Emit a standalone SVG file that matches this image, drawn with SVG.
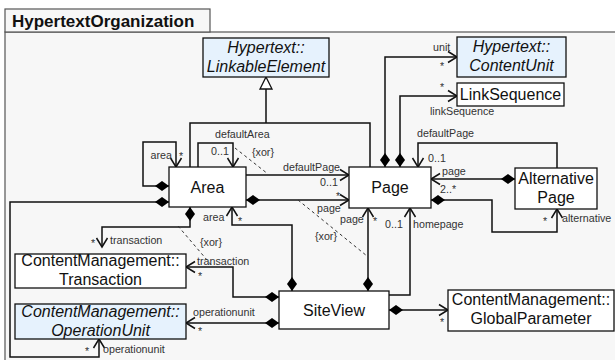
<svg xmlns="http://www.w3.org/2000/svg" width="615" height="360" viewBox="0 0 615 360">
<style>
.frame{fill:#f7f7f7;stroke:#555;stroke-width:1.2}
.node{fill:#fff;stroke:#111;stroke-width:1.3}
.abs{fill:#e6f2fd;stroke:#111;stroke-width:1.3}
.t{font-family:"Liberation Sans",Arial,sans-serif;font-size:16px;fill:#111;text-anchor:middle}
.i{font-style:italic}
.title{font-family:"Liberation Sans",Arial,sans-serif;font-size:17px;font-weight:bold;fill:#111}
.c{fill:none;stroke:#111;stroke-width:1.5}
.a{marker-end:url(#arr)}
.d{marker-start:url(#dia)}
.x{fill:none;stroke:#333;stroke-width:1;stroke-dasharray:3,3}
.l{font-family:"Liberation Sans",Arial,sans-serif;font-size:10.7px;fill:#333}
</style>
<defs>
<marker id="arr" markerUnits="userSpaceOnUse" viewBox="-11 -7 13 14" markerWidth="13" markerHeight="14" refX="0" refY="0" orient="auto">
<path d="M-9,-5.5 L0,0 L-9,5.5" fill="none" stroke="#111" stroke-width="1.5"/>
</marker>
<marker id="dia" markerUnits="userSpaceOnUse" viewBox="-1 -6 17 12" markerWidth="17" markerHeight="12" refX="0" refY="0" orient="auto">
<path d="M0,0 L7,-5 L14,0 L7,5 z" fill="#000"/>
</marker>
</defs>
<rect x="0" y="0" width="615" height="360" fill="#fff"/>
<rect class="frame" x="5" y="32" width="620" height="335"/>
<rect class="frame" x="5" y="9" width="205" height="23"/>
<text class="title" x="12" y="27">HypertextOrganization</text>

<g id="connectors">
<!-- generalization -->
<path class="c" d="M190,167 V123 H370 V167 M266,123 V89"/>
<polygon points="266,77 272,89 260,89" fill="#fff" stroke="#111" stroke-width="1.3"/>
<!-- Area self area -->
<path class="c d a" d="M169,186 H143 V142 H176 V167"/>
<!-- defaultArea -->
<path class="c a" d="M198,167 V143 H233 V167"/>
<!-- Area to Page defaultPage -->
<path class="c a" d="M246,175 H349"/>
<!-- Area to Page page -->
<path class="c d a" d="M246,200 H349"/>
<!-- Page to ContentUnit -->
<path class="c d a" d="M385,167 V57 H457"/>
<!-- Page to LinkSequence -->
<path class="c d a" d="M400,167 V96 H457"/>
<!-- AltPage defaultPage -->
<path class="c a" d="M557,168 V143 H418 V167"/>
<!-- AltPage to Page page -->
<path class="c d a" d="M515,179 H431"/>
<!-- Page to AltPage alternative -->
<path class="c d a" d="M431,200 H492 V232 H557 V209"/>
<!-- SiteView to Area -->
<path class="c d a" d="M292,291 V225 H232 V207"/>
<!-- Area to Transaction -->
<path class="c d a" d="M190,207 V227 H102 V247"/>
<!-- SiteView to Transaction -->
<path class="c d a" d="M279,297 H233 V267 H186"/>
<!-- SiteView to OperationUnit -->
<path class="c d a" d="M279,323 H186"/>
<!-- Area to OperationUnit -->
<path class="c d a" d="M169,202 H10 V357 H99 V339"/>
<!-- SiteView to Page page -->
<path class="c d a" d="M368,291 V208"/>
<!-- SiteView homepage -->
<path class="c a" d="M389,295 H410 V208"/>
<!-- SiteView to GlobalParameter -->
<path class="c d a" d="M389,310 H448"/>
<!-- xor constraints -->
<path class="x" d="M235,148 L268,174"/>
<path class="x" d="M298,200 L367,256"/>
<path class="x" d="M178,226 L213,267"/>
<!-- labels -->
<text class="l" x="172" y="159" text-anchor="end">area</text>
<text class="l" x="179" y="160">*</text>
<text class="l" x="215" y="138">defaultArea</text>
<text class="l" x="211" y="155">0..1</text>
<text class="l" x="252" y="156">{xor}</text>
<text class="l" x="283" y="171">defaultPage</text>
<text class="l" x="320" y="186">0..1</text>
<text class="l" x="336" y="200">*</text>
<text class="l" x="317" y="212">page</text>
<text class="l" x="315" y="240">{xor}</text>
<text class="l" x="433" y="51">unit</text>
<text class="l" x="440" y="70">*</text>
<text class="l" x="440" y="91">*</text>
<text class="l" x="430" y="115">linkSequence</text>
<text class="l" x="417" y="137">defaultPage</text>
<text class="l" x="428" y="162">0..1</text>
<text class="l" x="442" y="175">page</text>
<text class="l" x="440" y="193">2..*</text>
<text class="l" x="543" y="225">*</text>
<text class="l" x="562" y="222">alternative</text>
<text class="l" x="203" y="221">area</text>
<text class="l" x="238" y="225">*</text>
<text class="l" x="91" y="247">*</text>
<text class="l" x="110" y="244">transaction</text>
<text class="l" x="200" y="246">{xor}</text>
<text class="l" x="197" y="265">transaction</text>
<text class="l" x="198" y="280">*</text>
<text class="l" x="193" y="316">operationunit</text>
<text class="l" x="198" y="335">*</text>
<text class="l" x="85" y="355">*</text>
<text class="l" x="103" y="353">operationunit</text>
<text class="l" x="340" y="223">page</text>
<text class="l" x="373" y="225">*</text>
<text class="l" x="385" y="228">0..1</text>
<text class="l" x="413" y="228">homepage</text>
<text class="l" x="440" y="326">*</text>
</g>

<g id="LinkableElement">
<rect class="abs" x="203" y="38" width="126" height="39"/>
<text class="t i" x="266" y="53">Hypertext::</text>
<text class="t i" x="266" y="72">LinkableElement</text>
</g>
<g id="ContentUnit">
<rect class="abs" x="457" y="37" width="109" height="40"/>
<text class="t i" x="511.5" y="52">Hypertext::</text>
<text class="t i" x="511.5" y="71">ContentUnit</text>
</g>
<g id="LinkSequence">
<rect class="node" x="457" y="83" width="107" height="23"/>
<text class="t" x="510.5" y="100">LinkSequence</text>
</g>
<g id="Area">
<rect class="node" x="169" y="167" width="77" height="40"/>
<text class="t" x="207.5" y="192.5">Area</text>
</g>
<g id="Page">
<rect class="node" x="349" y="167" width="82" height="41"/>
<text class="t" x="390" y="193">Page</text>
</g>
<g id="AlternativePage">
<rect class="node" x="515" y="168" width="82" height="41"/>
<text class="t" x="556" y="184">Alternative</text>
<text class="t" x="556" y="203">Page</text>
</g>
<g id="Transaction">
<rect class="node" x="15" y="254" width="171" height="34"/>
<text class="t" x="100.5" y="266">ContentManagement::</text>
<text class="t" x="100.5" y="285">Transaction</text>
</g>
<g id="OperationUnit">
<rect class="abs" x="15" y="304" width="171" height="35"/>
<text class="t i" x="100.5" y="316.5">ContentManagement::</text>
<text class="t i" x="100.5" y="335.5">OperationUnit</text>
</g>
<g id="SiteView">
<rect class="node" x="279" y="291" width="110" height="38"/>
<text class="t" x="334" y="315.5">SiteView</text>
</g>
<g id="GlobalParameter">
<rect class="node" x="448" y="290" width="166" height="41"/>
<text class="t" x="531" y="305">ContentManagement::</text>
<text class="t" x="531" y="324">GlobalParameter</text>
</g>
</svg>
